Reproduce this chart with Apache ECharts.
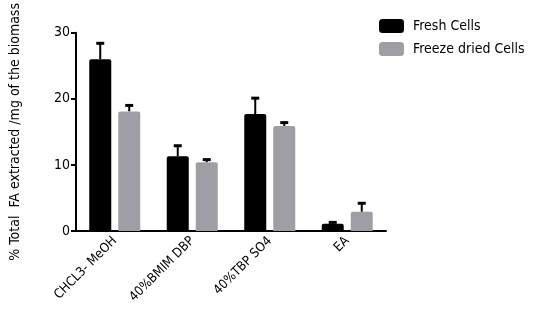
<!DOCTYPE html>
<html>
<head>
<meta charset="utf-8">
<script src="https://cdn.jsdelivr.net/npm/echarts@6/dist/echarts.min.js"></script>
<style>
  html, body { margin: 0; padding: 0; background: #fff; }
  #main { width: 536px; height: 316px; }
</style>
</head>
<body>
<div id="main"></div>
<script>
var categories = ["CHCL3- MeOH", "40%BMIM DBP", "40%TBP SO4", "EA"];
var freshValues = [26.0, 11.3, 17.7, 1.1];
var freshErr = [2.4, 1.6, 2.4, 0.2];
var driedValues = [18.1, 10.4, 15.9, 2.9];
var driedErr = [0.9, 0.4, 0.5, 1.3];
var yTicks = [0, 10, 20, 30];

var FONT = "'Liberation Sans Narrow', 'DejaVu Sans Condensed', sans-serif";
var BAR_W = 22;
var BAR_GAP = 7;

function errorSeries(name, values, errs, side) {
  return {
    name: name + " err",
    type: "custom",
    silent: true,
    z: 1,
    data: values.map(function (v, i) {
      return [i, v, v + errs[i]];
    }),
    renderItem: function (params, api) {
      var off = side * (BAR_W + BAR_GAP) / 2;
      var base = api.coord([api.value(0), api.value(1)]);
      var top = api.coord([api.value(0), api.value(2)]);
      var x = base[0] + off;
      return {
        type: "group",
        children: [
          {
            type: "line",
            shape: { x1: x, y1: base[1], x2: x, y2: top[1] },
            style: { stroke: "#000", lineWidth: 2 },
          },
          {
            type: "line",
            shape: { x1: x - 4, y1: top[1], x2: x + 4, y2: top[1] },
            style: { stroke: "#000", lineWidth: 3 },
          },
        ],
      };
    },
  };
}

var chart = echarts.init(document.getElementById("main"));
chart.setOption({
  animation: false,
  textStyle: { fontFamily: FONT },
  grid: { left: 70, right: 150, top: 21, bottom: 85 },
  legend: {
    left: 374,
    top: 14,
    orient: "vertical",
    itemWidth: 25,
    itemHeight: 14,
    itemGap: 9,
    textStyle: { fontSize: 14, color: "#000", fontFamily: FONT, padding: [0, 0, 0, 4] },
    data: ["Fresh Cells", "Freeze dried Cells"],
  },
  xAxis: {
    type: "category",
    data: categories,
    axisLine: { lineStyle: { color: "#000", width: 2 } },
    axisTick: { alignWithLabel: true, length: 5, lineStyle: { color: "#000", width: 2 } },
    axisLabel: { rotate: 45, fontSize: 13, color: "#000", margin: 8, fontFamily: FONT },
  },
  yAxis: {
    type: "value",
    min: yTicks[0],
    max: yTicks[yTicks.length - 1],
    interval: 10,
    name: "% Total  FA extracted /mg of the biomass",
    nameLocation: "middle",
    nameGap: 54,
    nameTextStyle: { fontSize: 14, color: "#000", fontFamily: FONT },
    splitLine: { show: false },
    axisLine: { show: true, lineStyle: { color: "#000", width: 2 } },
    axisTick: { show: true, length: 5, lineStyle: { color: "#000", width: 2 } },
    axisLabel: { fontSize: 14, color: "#000", margin: 6, fontFamily: FONT },
  },
  series: [
    {
      name: "Fresh Cells",
      type: "bar",
      data: freshValues,
      barWidth: BAR_W,
      barGap: (BAR_GAP / BAR_W * 100) + "%",
      z: 2,
      itemStyle: { color: "#000", borderRadius: [2, 2, 0, 0] },
    },
    {
      name: "Freeze dried Cells",
      type: "bar",
      data: driedValues,
      barWidth: BAR_W,
      z: 2,
      itemStyle: { color: "#9e9ea4", borderRadius: [2, 2, 0, 0] },
    },
    errorSeries("Fresh Cells", freshValues, freshErr, -1),
    errorSeries("Freeze dried Cells", driedValues, driedErr, 1),
  ],
});
</script>
</body>
</html>
